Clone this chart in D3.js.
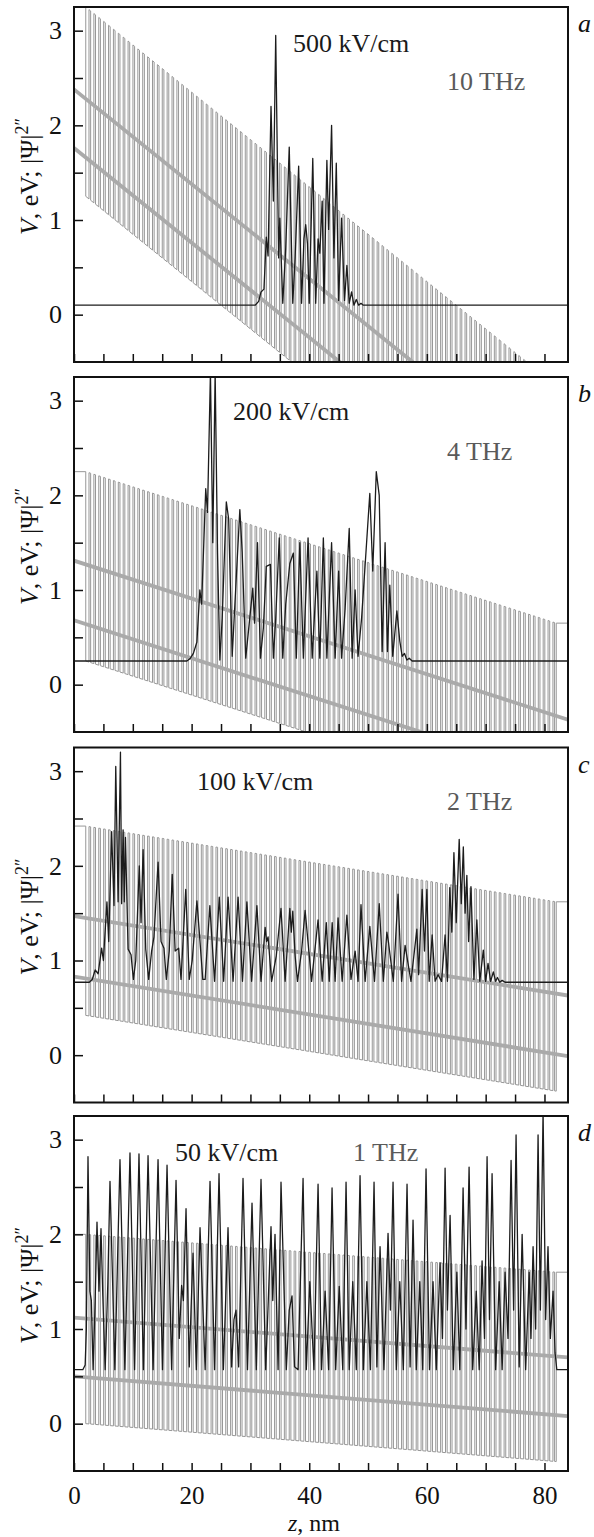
<!DOCTYPE html>
<html>
<head>
<meta charset="utf-8">
<script src="https://cdn.jsdelivr.net/npm/d3@7"></script>
<style>
  body { margin: 0; background: #fff; }
  svg { display: block; }
  text { font-family: "Liberation Serif", "Times New Roman", serif; }
</style>
</head>
<body>
<div id="chart"></div>
<script>
// ---- data ----
const panelIds = ["a", "b", "c", "d"];
const fieldLabels = ["500 kV/cm", "200 kV/cm", "100 kV/cm", "50 kV/cm"];
const freqLabels = ["10 THz", "4 THz", "2 THz", "1 THz"];

// superlattice: well bottom at z = 2 nm (eV), tilt (eV/nm)
const wellBottomAt2 = [1.25, 0.25, 0.42, 0.0];
const tilt = [0.05, 0.02, 0.01, 0.005];
const barrierHeight = 2.0;
const slStart = 2, slEnd = 82, barrierCount = 96, barrierWidth = 0.28;

// thick grey lines, value at z = 0 and z = 84
const upperStart = [2.38, 1.31, 1.47, 1.12];
const upperEnd = [-1.82, -0.37, 0.63, 0.70];
const lowerStart = [1.76, 0.68, 0.83, 0.50];
const lowerEnd = [-2.44, -1.0, -0.01, 0.08];

// |psi|^2 curves (z nm, value)
const psiA = [[0,0.1],[30.8,0.1],[31.4,0.14],[31.8,0.24],[32.3,0.27],[32.7,0.82],[33.0,0.62],[33.5,2.2],[33.9,1.2],[34.3,2.95],[34.8,0.6],[35.0,1.02],[35.5,0.12],[36.0,0.7],[36.6,1.77],[37.2,0.12],[37.6,0.6],[38.2,1.57],[38.7,0.12],[39.1,0.8],[39.4,0.95],[39.7,0.75],[40.0,0.12],[40.6,1.65],[41.1,0.12],[41.5,0.8],[41.8,0.65],[42.2,1.2],[42.5,0.12],[43.0,1.63],[43.3,0.9],[43.8,2.0],[44.2,0.6],[44.6,1.6],[45.0,0.15],[45.5,1.02],[46.0,0.15],[46.4,0.52],[46.8,0.12],[47.2,0.24],[47.6,0.1],[48.0,0.16],[48.4,0.1],[48.8,0.12],[49.2,0.1],[84,0.1]];

const psiB = [[0,0.25],[19.2,0.25],[19.8,0.28],[20.3,0.33],[20.9,0.45],[21.4,1.0],[21.7,0.85],[22.4,2.07],[22.7,1.82],[23.2,3.3],[23.6,1.5],[24.0,3.3],[24.4,1.4],[24.8,0.26],[25.2,0.7],[25.9,1.93],[26.3,1.75],[26.9,0.3],[27.4,0.9],[28.2,1.85],[28.6,1.4],[29.2,0.28],[29.8,0.65],[30.4,1.02],[30.7,0.65],[31.2,1.5],[31.7,0.28],[32.2,0.6],[32.7,1.25],[33.4,1.27],[33.9,0.28],[34.3,0.7],[34.9,1.55],[35.5,0.28],[36.0,0.85],[36.7,1.28],[37.3,1.39],[37.8,0.28],[38.4,1.5],[39.0,0.28],[39.8,1.55],[40.5,0.28],[41.3,1.2],[41.8,0.28],[42.4,1.55],[43.0,0.28],[43.8,1.5],[44.4,0.28],[45.0,1.2],[45.5,0.28],[46.1,0.8],[46.8,1.65],[47.3,0.28],[47.8,1.0],[48.3,0.3],[48.9,0.7],[49.5,1.26],[50.3,2.02],[50.8,1.2],[51.4,2.25],[51.9,2.0],[52.4,0.35],[52.9,1.5],[53.3,0.35],[53.7,1.05],[54.2,0.3],[54.9,0.78],[55.4,0.46],[55.8,0.3],[56.2,0.33],[56.6,0.26],[57.0,0.28],[57.5,0.25],[84,0.25]];

const psiC = [[0,0.77],[2.6,0.77],[3.1,0.8],[3.6,0.9],[4.1,0.86],[4.7,1.13],[5.0,1.0],[5.6,1.62],[5.9,1.2],[6.4,2.36],[6.8,1.58],[7.1,3.05],[7.5,1.62],[7.9,3.2],[8.1,1.6],[8.35,2.38],[8.55,1.62],[8.75,2.3],[9.2,1.12],[9.7,1.06],[10.1,0.8],[10.5,1.0],[11.1,2.0],[11.4,1.4],[11.75,2.17],[12.2,1.12],[12.7,0.8],[13.2,1.1],[13.6,1.25],[14.3,2.04],[14.8,1.2],[15.3,1.13],[15.7,0.8],[16.2,1.1],[16.7,1.91],[17.2,1.1],[17.8,1.13],[18.2,0.8],[19.0,1.75],[19.6,0.8],[20.1,1.0],[20.9,1.63],[21.4,1.22],[21.9,0.8],[22.3,0.8],[23.1,1.58],[23.9,0.78],[24.7,1.67],[25.45,0.78],[26.2,1.67],[27.05,0.78],[27.9,1.67],[28.65,0.78],[29.4,1.62],[30.2,0.78],[31.1,1.58],[31.8,0.78],[32.5,1.35],[32.75,1.2],[33.0,1.25],[33.6,0.78],[34.4,1.05],[35.2,1.55],[35.9,0.78],[36.7,1.55],[36.95,1.3],[37.2,1.52],[37.6,1.05],[38.0,0.78],[38.7,1.1],[39.3,1.53],[40.4,0.78],[41.5,1.43],[42.2,0.78],[42.9,1.4],[43.4,0.78],[43.9,1.4],[44.4,0.78],[44.9,1.45],[45.6,0.78],[46.4,1.48],[47.1,0.8],[47.8,1.1],[48.3,0.78],[48.8,1.59],[49.5,0.78],[50.3,1.36],[51.1,0.78],[51.9,1.6],[52.6,0.78],[53.2,1.3],[53.5,1.18],[54.3,0.78],[55.1,1.7],[55.7,0.78],[56.3,1.16],[57.3,0.78],[58.3,1.33],[58.6,0.85],[59.2,1.75],[59.6,1.1],[60.0,1.75],[60.4,0.78],[60.9,1.27],[61.4,0.78],[61.9,0.85],[62.5,0.78],[63.1,1.27],[63.5,0.78],[63.9,1.77],[64.25,1.3],[64.6,2.14],[65.0,1.4],[65.5,2.28],[65.85,1.6],[66.2,2.2],[66.5,1.5],[66.8,1.9],[67.1,1.2],[67.5,1.78],[68.0,0.8],[68.5,1.43],[69.0,0.78],[69.6,1.11],[70.0,0.78],[70.4,0.97],[70.85,0.78],[71.3,0.88],[71.7,0.78],[72.0,0.82],[72.4,0.77],[72.8,0.79],[73.3,0.77],[84,0.77]];

const psiD = [[0,0.57],[1.5,0.57],[1.9,0.62],[2.1,1.0],[2.38,2.82],[2.7,1.4],[2.95,1.3],[3.25,0.57],[3.6,1.3],[3.91,2.13],[4.25,1.4],[4.59,2.06],[4.9,1.35],[5.3,0.57],[5.75,1.48],[6.12,2.56],[6.95,0.57],[7.82,2.79],[8.65,0.57],[9.52,2.86],[10.3,0.57],[11.05,2.85],[11.8,0.57],[12.59,2.83],[13.45,0.57],[14.29,2.79],[15.05,0.57],[15.82,2.73],[16.6,0.57],[17.35,2.57],[17.9,0.9],[18.3,1.46],[18.6,1.3],[19.05,2.27],[19.6,0.6],[19.9,1.2],[20.24,1.8],[20.8,0.57],[21.43,2.07],[22.3,0.57],[23.13,2.56],[23.9,0.57],[24.66,2.64],[25.4,0.57],[26.19,2.07],[26.8,0.6],[27.2,1.1],[27.55,1.2],[28.0,0.6],[28.74,2.59],[29.5,0.57],[30.27,2.33],[31.0,0.57],[31.8,2.58],[32.6,0.57],[33.5,2.08],[33.8,1.3],[34.18,2.0],[34.7,0.57],[35.2,2.55],[36.1,0.57],[36.6,1.2],[37.07,1.35],[37.5,0.6],[38.1,0.57],[38.95,2.59],[39.5,0.57],[40.1,1.5],[40.8,0.57],[41.5,2.53],[42.1,0.57],[42.7,1.4],[43.3,0.57],[43.88,2.49],[44.5,0.57],[45.1,1.45],[45.7,0.57],[46.26,2.55],[46.8,0.57],[47.4,1.5],[48.0,0.57],[48.64,2.62],[49.2,0.57],[49.8,1.5],[50.4,0.57],[51.02,2.55],[51.5,0.6],[52.04,1.87],[52.7,0.57],[53.4,2.01],[53.8,1.2],[54.25,2.55],[54.8,0.57],[55.4,1.5],[56.0,0.57],[56.63,2.53],[57.15,0.6],[57.65,2.15],[58.2,0.57],[58.8,1.5],[59.3,0.57],[59.86,2.69],[60.45,0.57],[61.05,1.5],[61.6,0.57],[62.24,1.7],[62.65,0.9],[63.1,2.7],[63.5,1.2],[63.95,2.2],[64.5,0.57],[65.1,1.6],[65.6,0.57],[66.16,2.49],[66.65,1.0],[67.18,2.71],[67.8,0.57],[68.4,1.4],[68.9,0.57],[69.39,1.72],[69.8,0.9],[70.24,2.82],[70.65,1.1],[71.09,2.64],[71.7,0.57],[72.3,1.5],[72.8,0.57],[73.3,1.6],[73.8,0.9],[74.32,2.78],[74.75,1.2],[75.17,3.05],[75.7,0.6],[76.2,2.0],[76.8,0.57],[77.4,1.6],[77.7,0.9],[78.06,1.87],[78.5,1.0],[78.91,3.05],[79.3,1.2],[79.76,3.3],[80.2,1.1],[80.6,1.87],[81.0,0.9],[81.46,1.4],[81.8,0.75],[82.1,0.57],[84,0.57]];

const psiData = [psiA, psiB, psiC, psiD];

const yTickValues = [0, 0.5, 1, 1.5, 2, 2.5, 3];
const xTickValues = [0, 5, 10, 15, 20, 25, 30, 35, 40, 45, 50, 55, 60, 65, 70, 75, 80];
const xLabelValues = [0, 20, 40, 60, 80];

// ---- layout ----
const width = 594, height = 1537;
const left = 74, right = 568;
const panelTops = [7, 377, 747.5, 1116];
const panelH = 355;
const fieldPos = [[293, 45], [233, 43], [197, 42], [175, 45]];
const freqPos = [[447, 83], [447, 83], [447, 62], [353, 45]];

const svg = d3.select("#chart").append("svg")
    .attr("width", width)
    .attr("height", height);

const x = d3.scaleLinear().domain([0, 84]).range([left, right]);

panelIds.forEach((id, i) => {
    const top = panelTops[i];
    const y = d3.scaleLinear().domain([-0.5, 3.25]).range([top + panelH, top]);
    const g = svg.append("g");

    g.append("clipPath").attr("id", "clip" + i)
        .append("rect")
        .attr("x", left).attr("y", top)
        .attr("width", right - left).attr("height", panelH);

    const plot = g.append("g").attr("clip-path", "url(#clip" + i + ")");

    // potential profile (square wave, tilted)
    const bottom = z => wellBottomAt2[i] - tilt[i] * (z - slStart);
    const period = (slEnd - slStart - barrierWidth) / barrierCount;
    const wellW = period - barrierWidth;
    const pot = [[0, bottom(slStart) + barrierHeight], [slStart, bottom(slStart) + barrierHeight], [slStart, bottom(slStart)]];
    for (let k = 0; k < barrierCount; k++) {
        const za = slStart + wellW + k * period;
        const zb = za + barrierWidth;
        pot.push([za, bottom(za)], [za, bottom(za) + barrierHeight],
                 [zb, bottom(zb) + barrierHeight], [zb, bottom(zb)]);
    }
    pot.push([slEnd, bottom(slEnd)], [slEnd, bottom(slEnd) + barrierHeight], [84, bottom(slEnd) + barrierHeight]);

    const line = d3.line().x(d => x(d[0])).y(d => y(d[1]));

    plot.append("path")
        .attr("d", line(pot))
        .attr("fill", "none")
        .attr("stroke", "#979797")
        .attr("stroke-width", 1);

    [[upperStart[i], upperEnd[i]], [lowerStart[i], lowerEnd[i]]].forEach(v => {
        plot.append("path")
            .attr("d", line([[0, v[0]], [84, v[1]]]))
            .attr("fill", "none")
            .attr("stroke", "#aaaaaa")
            .attr("stroke-width", 3.8);
    });

    plot.append("path")
        .attr("d", line(psiData[i]))
        .attr("fill", "none")
        .attr("stroke", "#1c1c1c")
        .attr("stroke-width", 1.3)
        .attr("stroke-linejoin", "round");

    // axes
    const yAxis = d3.axisLeft(y)
        .tickValues(yTickValues)
        .tickSize(-9)
        .tickPadding(12)
        .tickFormat(d => Number.isInteger(d) ? d : "");
    const ya = g.append("g").attr("transform", `translate(${left},0)`).call(yAxis);
    ya.select(".domain").remove();
    ya.selectAll("line").attr("stroke", "#111").attr("stroke-width", 1.5);
    ya.selectAll("text").attr("font-size", 26).attr("fill", "#111")
        .style("font-family", "'Liberation Serif', serif");

    const xAxis = d3.axisBottom(x)
        .tickValues(xTickValues)
        .tickSize(-8)
        .tickPadding(15)
        .tickFormat(d => (i === 3 && xLabelValues.includes(d)) ? d : "");
    const xa = g.append("g").attr("transform", `translate(0,${top + panelH})`).call(xAxis);
    xa.select(".domain").remove();
    xa.selectAll("line").attr("stroke", "#111").attr("stroke-width", 1.5);
    xa.selectAll("text").attr("font-size", 25).attr("fill", "#111")
        .style("font-family", "'Liberation Serif', serif");

    g.append("rect")
        .attr("x", left).attr("y", top)
        .attr("width", right - left).attr("height", panelH)
        .attr("fill", "none")
        .attr("stroke", "#111")
        .attr("stroke-width", 2);

    // labels
    g.append("text")
        .attr("x", fieldPos[i][0]).attr("y", top + fieldPos[i][1])
        .attr("font-size", 26).attr("fill", "#1a1a1a")
        .text(fieldLabels[i]);
    g.append("text")
        .attr("x", freqPos[i][0]).attr("y", top + freqPos[i][1])
        .attr("font-size", 26).attr("fill", "#5a5a5a")
        .text(freqLabels[i]);
    g.append("text")
        .attr("x", 578).attr("y", top + 25)
        .attr("font-size", 26).attr("font-style", "italic").attr("fill", "#111")
        .text(id);

    const yl = g.append("text")
        .attr("transform", `translate(38,${top + panelH / 2 - 8}) rotate(-90)`)
        .attr("text-anchor", "middle")
        .attr("font-size", 26).attr("fill", "#111");
    yl.append("tspan").attr("font-style", "italic").text("V");
    yl.append("tspan").text(", eV; |\u03A8|");
    yl.append("tspan").attr("font-size", 18).attr("dy", -10).text("2\u2033");
});

const xl = svg.append("text")
    .attr("x", 314).attr("y", 1531)
    .attr("text-anchor", "middle")
    .attr("font-size", 24).attr("fill", "#111");
xl.append("tspan").attr("font-style", "italic").text("z");
xl.append("tspan").text(", nm");
</script>
</body>
</html>
